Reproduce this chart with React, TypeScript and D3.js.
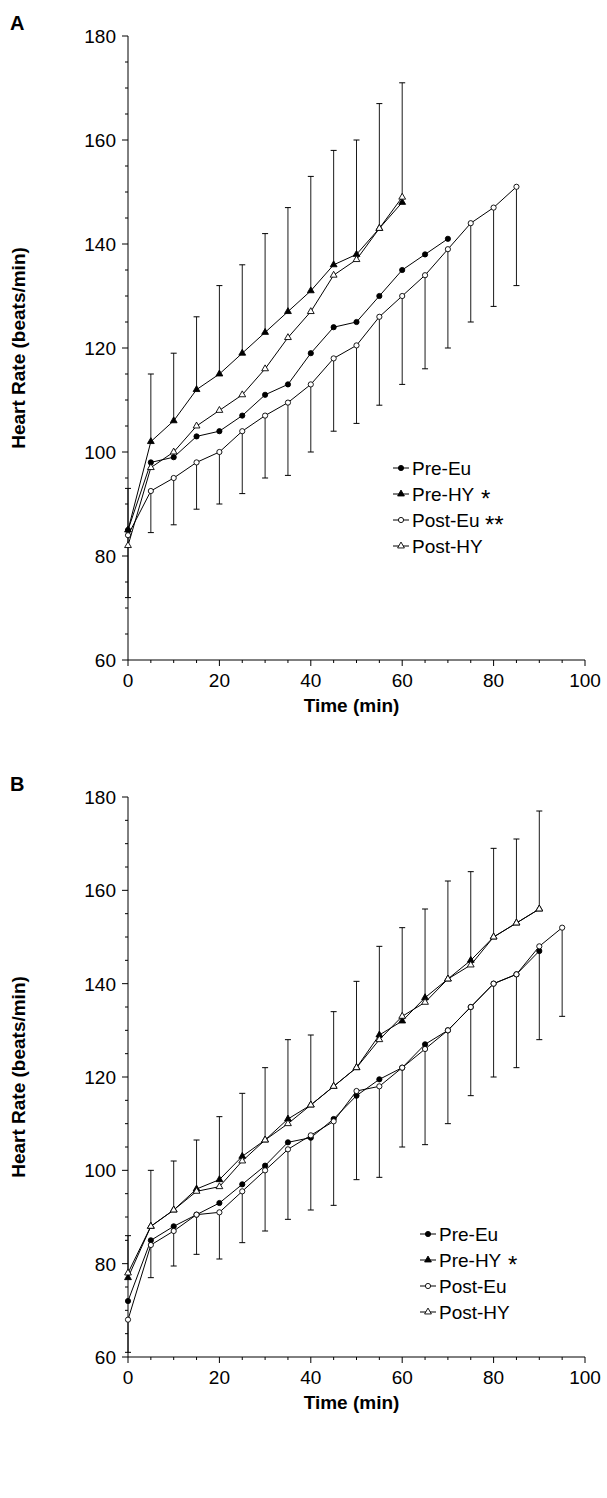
import React from "react";
import * as d3 from "d3";

const timesA = [0,5,10,15,20,25,30,35,40,45,50,55,60,65,70,75,80,85];
const preEuA = [85,98,99,103,104,107,111,113,119,124,125,130,135,138,141];
const preHyA = [85,102,106,112,115,119,123,127,131,136,138,143,148];
const postEuA = [84,92.5,95,98,100,104,107,109.5,113,118,120.5,126,130,134,139,144,147,151];
const postHyA = [82,97,100,105,108,111,116,122,127,134,137,143,149];
const errUpA = [8,13,13,14,17,17,19,20,22,22,22,24,23];
const errDnA = [12,8,9,9,10,12,12,14,13,14,15,17,17,18,19,19,19,19];

const timesB = [0,5,10,15,20,25,30,35,40,45,50,55,60,65,70,75,80,85,90,95];
const preEuB = [72,85,88,90.5,93,97,101,106,107,111,116,119.5,122,127,130,135,140,142,147];
const preHyB = [77,88,91.5,96,98,103,106.5,111,114,118,122,129,132,137,141,145,150,153,156];
const postEuB = [68,84,87,90.5,91,95.5,100,104.5,107.5,110.5,117,118,122,126,130,135,140,142,148,152];
const postHyB = [78,88,91.5,95.5,96.5,102,106.5,110,114,118,122,128,133,136,141,144,150,153,156];
const errUpB = [9,12,10.5,10.5,13.5,13.5,15.5,17,15,16,18.5,19,20,19,21,19,19,18,21];
const errDnB = [7,7,7.5,8.5,10,11,13,15,16,18,19,19.5,17,20.5,20,19,20,20,20,19];

const xTicks = [0,20,40,60,80,100];
const yTicks = [60,80,100,120,140,160,180];

type S = { name: string; vals: number[]; shape: "circle" | "tri"; fill: boolean };
const FF = "Liberation Sans, Arial";

function Marker({ x, y, s }: { x: number; y: number; s: S }) {
  const f = s.fill ? "#000" : "#fff";
  if (s.shape === "circle") return <circle cx={x} cy={y} r={2.6} fill={f} stroke="#000" strokeWidth={0.9} />;
  const p = d3.symbol(d3.symbolTriangle, 20)()!;
  return <path d={p} transform={`translate(${x},${y})`} fill={f} stroke="#000" strokeWidth={0.9} />;
}

function Panel({ top, bottom, times, series, up, dn, label, legX, legY, stars }: any) {
  const x = d3.scaleLinear().domain([0, 100]).range([128, 585]);
  const y = d3.scaleLinear().domain([60, 180]).range([bottom, top]);
  const line = d3.line<number>().x((_, i) => x(times[i])).y((v) => y(v));
  const minor = d3.range(0, 101, 5);
  const minorY = d3.range(60, 181, 5);
  return (
    <g>
      <text x={10} y={top - 6} fontSize={20} fontWeight="bold" fontFamily={FF}>{label}</text>
      <line x1={x(0)} x2={x(0)} y1={y(180)} y2={y(60)} stroke="#000" />
      <line x1={x(0)} x2={x(100)} y1={y(60)} y2={y(60)} stroke="#000" />
      {minor.map((t) => <line key={"mx" + t} x1={x(t)} x2={x(t)} y1={y(60)} y2={y(60) + (t % 20 === 0 ? 6 : 3)} stroke="#000" />)}
      {minorY.map((t) => <line key={"my" + t} x1={x(0)} x2={x(0) - (t % 20 === 0 ? 6 : 3)} y1={y(t)} y2={y(t)} stroke="#000" />)}
      {xTicks.map((t) => <text key={t} x={x(t)} y={y(60) + 27} textAnchor="middle" fontSize={19} fontFamily={FF}>{t}</text>)}
      {yTicks.map((t) => <text key={t} x={x(0) - 12} y={y(t) + 7} textAnchor="end" fontSize={19} fontFamily={FF}>{t}</text>)}
      <text x={x(50) - 5} y={y(60) + 52} textAnchor="middle" fontSize={19} fontWeight="bold" fontFamily={FF}>Time (min)</text>
      <text transform={`translate(25,${(top + bottom) / 2}) rotate(-90)`} textAnchor="middle" fontSize={19} fontWeight="bold" fontFamily={FF}>Heart Rate (beats/min)</text>
      {up.map((e: number, i: number) => {
        const v = series[1].vals[i]; const px = x(times[i]);
        return <g key={"u" + i}><line x1={px} x2={px} y1={y(v)} y2={y(v + e)} stroke="#000" strokeWidth={0.9} /><line x1={px - 3} x2={px + 3} y1={y(v + e)} y2={y(v + e)} stroke="#000" /></g>;
      })}
      {dn.map((e: number, i: number) => {
        const v = series[2].vals[i]; const px = x(times[i]);
        return <g key={"d" + i}><line x1={px} x2={px} y1={y(v)} y2={y(v - e)} stroke="#000" strokeWidth={0.9} /><line x1={px - 3} x2={px + 3} y1={y(v - e)} y2={y(v - e)} stroke="#000" /></g>;
      })}
      {series.map((s: S, k: number) => (
        <g key={k}>
          <path d={line(s.vals)!} fill="none" stroke="#000" strokeWidth={1} />
          {s.vals.map((v, i) => <Marker key={i} x={x(times[i])} y={y(v)} s={s} />)}
        </g>
      ))}
      {series.map((s: S, k: number) => {
        const ly = legY + k * 26;
        return (
          <g key={"l" + k}>
            <line x1={legX} x2={legX + 16} y1={ly} y2={ly} stroke="#000" />
            <Marker x={legX + 8} y={ly} s={s} />
            <text x={legX + 19} y={ly + 7} fontSize={19} fontFamily={FF}>{s.name}</text>
            {stars[k] && <text x={legX + (k === 2 ? 92 : 88)} y={ly + 13} fontSize={24} fontFamily={FF}>{stars[k]}</text>}
          </g>
        );
      })}
    </g>
  );
}

export default function App() {
  const sA: S[] = [
    { name: "Pre-Eu", vals: preEuA, shape: "circle", fill: true },
    { name: "Pre-HY", vals: preHyA, shape: "tri", fill: true },
    { name: "Post-Eu", vals: postEuA, shape: "circle", fill: false },
    { name: "Post-HY", vals: postHyA, shape: "tri", fill: false },
  ];
  const sB: S[] = [
    { name: "Pre-Eu", vals: preEuB, shape: "circle", fill: true },
    { name: "Pre-HY", vals: preHyB, shape: "tri", fill: true },
    { name: "Post-Eu", vals: postEuB, shape: "circle", fill: false },
    { name: "Post-HY", vals: postHyB, shape: "tri", fill: false },
  ];
  return (
    <svg width={607} height={1498} style={{ position: "absolute", left: 0, top: 0, background: "#fff" }}>
      <Panel top={36} bottom={660} times={timesA} series={sA} up={errUpA} dn={errDnA} label="A" legX={393} legY={468} stars={["", "*", "**", ""]} />
      <Panel top={797} bottom={1357} times={timesB} series={sB} up={errUpB} dn={errDnB} label="B" legX={420} legY={1234} stars={["", "*", "", ""]} />
    </svg>
  );
}
